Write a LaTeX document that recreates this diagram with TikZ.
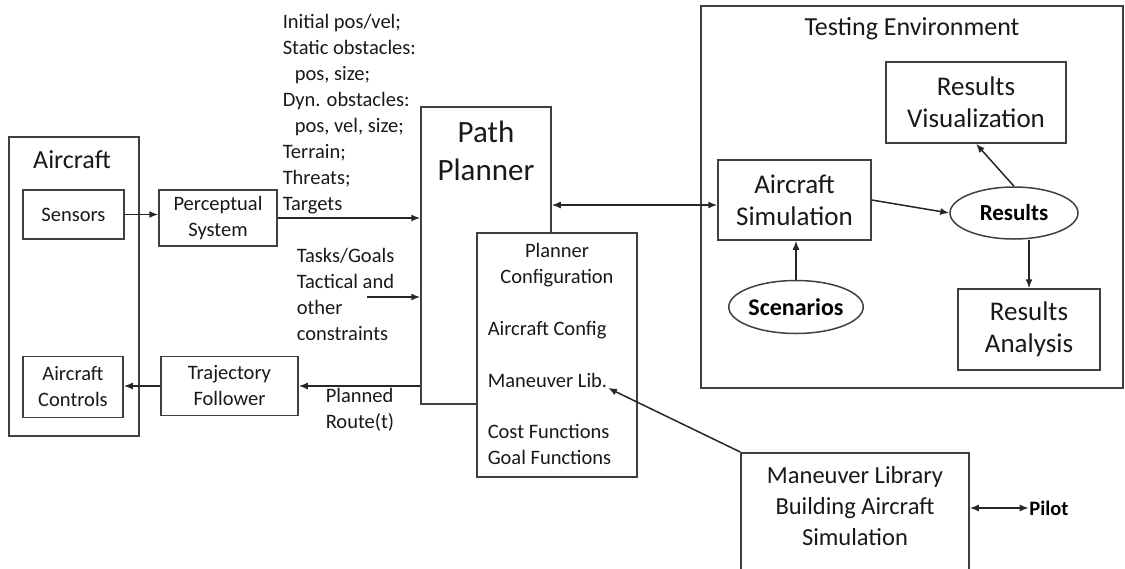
\documentclass[tikz,border=0pt]{standalone}
\usepackage{fontspec}
\setmainfont{Carlito}
\usetikzlibrary{shapes.geometric, arrows, arrows.meta}
\usetikzlibrary{positioning}

\begin{document}
\begin{tikzpicture}[x=1pt, y=-1pt, align=center, line width=1.5pt]

\tikzstyle{frame} = [rectangle, draw=black!75, inner sep=0pt]
\tikzstyle{block} = [rectangle, draw=black!75, fill=white, text=black!90, inner sep=0pt, font=\fontsize{20.5}{26}\selectfont]
\tikzstyle{bigblock} = [rectangle, draw=black!75, fill=white, text=black!90, inner sep=0pt, font=\fontsize{27}{32}\selectfont]
\tikzstyle{oval} = [ellipse, draw=black!75, text=black, inner sep=0pt, font=\bfseries\fontsize{23}{28}\selectfont]
\tikzstyle{note} = [inner sep=0pt, align=left, text=black!90, font=\fontsize{20.5}{26}\selectfont]
\tikzstyle{title} = [inner sep=0pt, text=black!90, font=\fontsize{26}{32}\selectfont]
\tikzstyle{arrow} = [draw=black!85, ->, >={Latex[length=9pt, width=7pt]}]
\tikzstyle{dblarrow} = [draw=black!85, <->, >={Latex[length=9pt, width=7pt]}]

\path [use as bounding box, clip] (0,0) rectangle (1125,568);

% aircraft side
\node (aircraft) [frame, minimum width=130pt, minimum height=299pt] at (74,286.5) {};
\node (aircraftlbl) [title] at (72,160) {Aircraft};
\node (sensors) [block, minimum width=101pt, minimum height=49pt] at (73.5,214.5) {Sensors};
\node (controls) [block, minimum width=100pt, minimum height=61pt] at (73,387) {Aircraft\\Controls};
\node (perceptual) [block, minimum width=118pt, minimum height=56pt] at (218,218) {Perceptual\\System};
\node (follower) [block, minimum width=137pt, minimum height=59pt] at (229.5,386) {Trajectory\\Follower};

% planner
\node (planner) [frame, minimum width=130pt, minimum height=297pt] at (486,255.5) {};
\node (plannerlbl) [title, font=\fontsize{31}{38}\selectfont] at (486,151) {Path\\Planner};
\node (config) [block, minimum width=160pt, minimum height=244pt] at (557,355) {};
\node (configlbl) [note, align=center] at (557,265) {Planner\\Configuration};
\node (aircraftcfg) [note, anchor=west] at (487,330) {Aircraft Config};
\node (manlib) [note, anchor=west] at (487,380) {Maneuver Lib.};
\node (functions) [note, anchor=west] at (487,444.5) {Cost Functions\\Goal Functions};

% inputs
\node (worldinfo) [note, anchor=north west] at (282,13.5) {Initial pos/vel;\\Static obstacles:\\\hspace*{12pt}pos, size;\\Dyn. obstacles:\\\hspace*{12pt}pos, vel, size;\\Terrain;\\Threats;\\Targets};
\node (tasks) [note, anchor=north west] at (296,247.5) {Tasks/Goals\\Tactical and\\other\\constraints};
\node (route) [note, anchor=north west] at (325,388) {Planned\\Route(t)};
\coordinate (taskstart) at (367,297);

% testing environment
\node (testing) [frame, minimum width=422pt, minimum height=382pt] at (912,197) {};
\node (testinglbl) [title] at (912,29) {Testing Environment};
\node (aircraftsim) [bigblock, minimum width=153pt, minimum height=80pt] at (794.5,200) {Aircraft\\Simulation};
\node (resultsvis) [bigblock, minimum width=180pt, minimum height=81pt] at (976,102.5) {Results\\Visualization};
\node (analysis) [bigblock, minimum width=142pt, minimum height=81pt] at (1029,329.5) {Results\\Analysis};
\node (results) [oval, minimum width=128pt, minimum height=52pt] at (1014,213) {Results};
\node (scenarios) [oval, minimum width=127pt, minimum height=53pt, font=\bfseries\fontsize{24}{28}\selectfont] at (796,307) {Scenarios};

% maneuver library building
\node (mlbbox) [frame, minimum width=228pt, minimum height=130pt, anchor=north] at (855,452) {};
\node (mlbtext) [title, font=\fontsize{24.5}{31}\selectfont] at (855,506) {Maneuver Library\\Building Aircraft\\Simulation};
\node (pilot) [inner sep=0pt, text=black, font=\bfseries\fontsize{20.5}{26}\selectfont] at (1049,508) {Pilot};

\draw [arrow] (sensors.east) -- (sensors.east -| perceptual.west);
\draw [arrow] (perceptual.east) -- (perceptual.east -| planner.west);
\draw [arrow] (taskstart) -- (taskstart -| planner.west);
\draw [arrow] (follower.east -| planner.west) -- (follower.east);
\draw [arrow] (follower.west) -- (follower.west -| controls.east);
\draw [dblarrow] ([yshift=-5pt]aircraftsim.west -| planner.east) -- ([yshift=-5pt]aircraftsim.west);
\draw [arrow] (aircraftsim.east) -- (results.west);
\draw [arrow] (results.north) -- (resultsvis.south);
\draw [arrow] (results.south -| analysis.north) -- (analysis.north);
\draw [arrow] (scenarios.north) -- (scenarios.north |- aircraftsim.south);
\draw [arrow] (mlbbox.north west) -- (manlib.south east);
\draw [dblarrow] (mlbbox.east |- pilot.west) -- (pilot.west);
\end{tikzpicture}
\end{document}
